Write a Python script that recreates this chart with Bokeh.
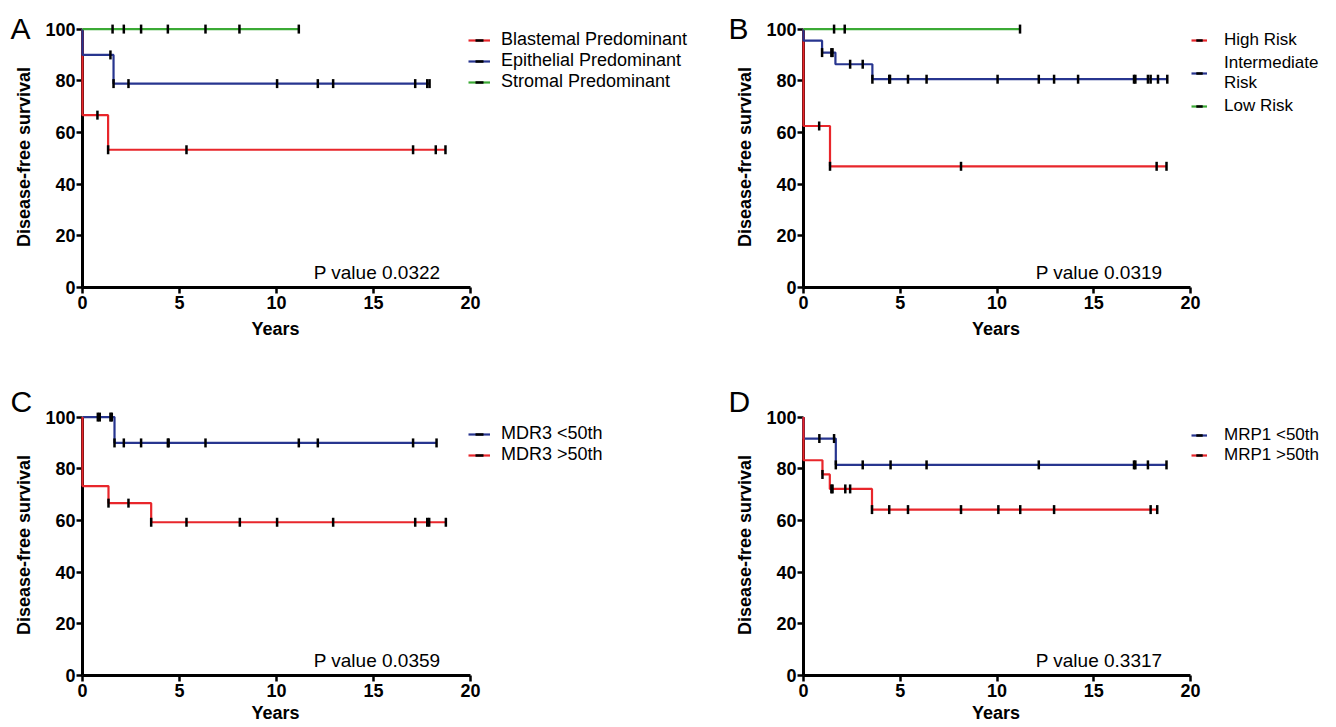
import numpy as np
from bokeh.plotting import figure
from bokeh.models import Range1d, Label, Legend, LegendItem, FixedTicker, Title
from bokeh.layouts import column, row
from bokeh.embed import file_html
from bokeh.resources import INLINE

RED = "#E8262B"
BLUE = "#27358F"
GREEN = "#3BAA35"
FONT = "Liberation Sans"

# ---------------- data (years, % disease-free) ----------------
# Panel A
a_labels = ["Blastemal Predominant", "Epithelial Predominant", "Stromal Predominant"]
a_blast_t = [0, 0, 1.32, 18.71]
a_blast_s = [100, 66.7, 53.3, 53.3]
a_blast_c = [0.77, 1.32, 5.36, 17.04, 18.21, 18.71]
a_epi_t = [0, 0, 1.60, 17.89]
a_epi_s = [100, 90.0, 78.9, 78.9]
a_epi_c = [1.44, 1.60, 2.37, 10.03, 12.13, 12.92, 17.15, 17.77, 17.89]
a_str_t = [0, 11.15]
a_str_s = [100, 100]
a_str_c = [1.55, 2.13, 3.02, 4.40, 6.34, 8.09, 11.15]
a_pval = "P value 0.0322"

# Panel B
b_labels = ["High Risk", "Intermediate\nRisk", "Low Risk"]
b_high_t = [0, 0, 1.37, 18.76]
b_high_s = [100, 62.5, 46.9, 46.9]
b_high_c = [0.81, 1.37, 8.14, 18.25, 18.76]
b_int_t = [0, 0, 0.96, 1.65, 3.56, 18.80]
b_int_s = [100, 95.5, 90.9, 86.4, 80.6, 80.6]
b_int_c = [0.96, 1.44, 1.50, 2.41, 3.06, 3.56, 4.43, 4.47, 5.40, 6.36, 10.03,
           12.16, 12.95, 14.19, 17.08, 17.15, 17.80, 17.94, 18.32, 18.80]
b_low_t = [0, 11.19]
b_low_s = [100, 100]
b_low_c = [1.58, 2.13, 11.19]
b_pval = "P value 0.0319"

# Panel C
c_labels = ["MDR3 <50th", "MDR3 >50th"]
c_lo_t = [0, 1.65, 18.25]
c_lo_s = [100, 90.0, 90.0]
c_lo_c = [0.79, 0.89, 1.44, 1.51, 1.65, 2.13, 3.02, 4.40, 4.44, 6.34, 11.15,
          12.13, 17.04, 18.25]
c_hi_t = [0, 0, 1.34, 3.54, 18.73]
c_hi_s = [100, 73.3, 66.7, 59.3, 59.3]
c_hi_c = [1.34, 2.37, 3.54, 5.36, 8.11, 10.03, 12.92, 17.15, 17.77, 17.87, 18.73]
c_pval = "P value 0.0359"

# Panel D
d_labels = ["MRP1 <50th", "MRP1 >50th"]
d_lo_t = [0, 0, 1.67, 18.76]
d_lo_s = [100, 91.7, 81.5, 81.5]
d_lo_c = [0.82, 1.58, 1.67, 3.06, 4.50, 6.36, 12.16, 17.08, 17.15, 17.80, 18.76]
d_hi_t = [0, 0, 0.98, 1.36, 3.54, 18.28]
d_hi_s = [100, 83.3, 77.8, 72.2, 64.2, 64.2]
d_hi_c = [0.98, 1.44, 1.50, 2.16, 2.41, 3.54, 4.43, 5.40, 8.14, 10.07, 11.20,
          12.95, 17.94, 18.28]
d_pval = "P value 0.3317"

x_ticks = [0, 5, 10, 15, 20]
y_ticks = [0, 20, 40, 60, 80, 100]
x_title = "Years"
y_title = "Disease-free survival"
X_MAX = 20
Y_MAX = 100


def surv_at(times, surv, cens):
    t = np.asarray(times, dtype=float)
    s = np.asarray(surv, dtype=float)
    idx = np.searchsorted(t, np.asarray(cens, dtype=float), side="right") - 1
    return s[idx]


def make_panel(letter, pval, series, width, height, left, top, bottom,
               axis_px, leg_font, glyph_w, standoff, leg_dx, leg_top, leg_spacing,
               letter_offset, letter_standoff, xtitle_standoff, pval_xy):
    right = 2
    frame_w = width - left - right
    frame_h = height - top - bottom
    # plotting area also holds the legend; the axis itself spans 0..20 over axis_px pixels
    x_end = X_MAX * frame_w / axis_px
    p = figure(width=width, height=height,
               x_range=Range1d(0, x_end), y_range=Range1d(0, Y_MAX * 1.01),
               output_backend="svg", toolbar_location=None,
               min_border_left=left, min_border_right=right,
               min_border_top=top, min_border_bottom=bottom,
               outline_line_color=None, background_fill_color="white",
               border_fill_color="white")
    p.title.text = letter
    p.title.align = "left"
    p.title.offset = letter_offset
    p.title.standoff = letter_standoff
    p.title.text_font = FONT
    p.title.text_font_size = "30px"
    p.title.text_font_style = "normal"
    p.title.text_color = "black"
    p.xgrid.visible = False
    p.ygrid.visible = False
    p.xaxis.bounds = (0, X_MAX)
    p.yaxis.bounds = (0, Y_MAX)
    p.xaxis.ticker = FixedTicker(ticks=x_ticks)
    p.yaxis.ticker = FixedTicker(ticks=y_ticks)
    p.yaxis.axis_label = y_title
    for ax in (p.xaxis[0], p.yaxis[0]):
        ax.axis_line_width = 3
        ax.axis_line_color = "black"
        ax.major_tick_line_width = 2.5
        ax.major_tick_line_color = "black"
        ax.major_tick_out = 6
        ax.major_tick_in = 0
        ax.minor_tick_out = 0
        ax.minor_tick_in = 0
        ax.major_label_text_font = FONT
        ax.major_label_text_font_size = "18px"
        ax.major_label_text_font_style = "bold"
        ax.major_label_text_color = "black"
        ax.axis_label_text_font = FONT
        ax.axis_label_text_font_size = "18px"
        ax.axis_label_text_font_style = "bold"
        ax.axis_label_text_color = "black"
    p.yaxis.major_label_standoff = 1
    p.yaxis.axis_label_standoff = 8
    p.xaxis.major_label_standoff = 2
    # x-axis title centred under the 0..20 axis (the plotting area is wider than the axis)
    p.add_layout(Title(text=x_title, align="left", offset=axis_px * 0.5 - 25,
                       standoff=xtitle_standoff, text_font=FONT, text_font_size="18px",
                       text_font_style="bold", text_color="black"), "below")

    items = []
    rends = {}
    for (label, color, t, s, c) in series:
        lr = p.step(t, s, mode="after", line_color=color, line_width=2.2, level="overlay")
        rends[label] = [lr]
    for (label, color, t, s, c) in series:
        mr = p.scatter(c, surv_at(t, s, c), marker="dash", angle=np.pi / 2, size=9,
                       line_color="black", line_width=2.5, level="overlay")
        rends[label].append(mr)
    for (label, color, t, s, c) in series:
        items.append(LegendItem(label=label, renderers=rends[label]))

    n_lines = sum(lbl.count("\n") + 1 for lbl in [it.label.value for it in items])
    leg_h = 4 + 20 * n_lines + leg_spacing * (len(items) - 1)
    leg = Legend(items=items, location=(axis_px + leg_dx, frame_h - leg_top - leg_h),
                 margin=0, padding=2,
                 spacing=leg_spacing, glyph_width=glyph_w, glyph_height=20,
                 label_height=20, label_standoff=standoff,
                 label_text_font=FONT, label_text_font_size=leg_font,
                 label_text_color="black", border_line_color=None,
                 background_fill_alpha=0)
    p.add_layout(leg)

    p.add_layout(Label(x=pval_xy[0], y=pval_xy[1], text=pval,
                       text_font=FONT, text_font_size="19px",
                       text_baseline="alphabetic", text_align="right",
                       text_color="black"))
    return p


pA = make_panel("A", a_pval,
                [(a_labels[0], RED, a_blast_t, a_blast_s, a_blast_c),
                 (a_labels[1], BLUE, a_epi_t, a_epi_s, a_epi_c),
                 (a_labels[2], GREEN, a_str_t, a_str_s, a_str_c)],
                722, 384, 82, 26, 97, 388, "18px", 22, 11, -2, 2, 0,
                -72, -37, 11, (18.45, 5.8))
pB = make_panel("B", b_pval,
                [(b_labels[0], RED, b_high_t, b_high_s, b_high_c),
                 (b_labels[1], BLUE, b_int_t, b_int_s, b_int_c),
                 (b_labels[2], GREEN, b_low_t, b_low_s, b_low_c)],
                612, 384, 81, 26, 97, 387, "17px", 16, 17, 1, 0, 3,
                -75, -37, 11, (18.55, 5.8))
pC = make_panel("C", c_pval,
                [(c_labels[0], BLUE, c_lo_t, c_lo_s, c_lo_c),
                 (c_labels[1], RED, c_hi_t, c_hi_s, c_hi_c)],
                722, 343, 82, 30, 52, 388, "18px", 22, 11, -2, 7, 0,
                -72, -7, 2, (18.45, 5.8))
pD = make_panel("D", d_pval,
                [(d_labels[0], BLUE, d_lo_t, d_lo_s, d_lo_c),
                 (d_labels[1], RED, d_hi_t, d_hi_s, d_hi_c)],
                612, 343, 81, 30, 52, 387, "17px", 16, 17, 1, 7, 0,
                -75, -7, 2, (18.55, 5.8))

layout = column(row(pA, pB), row(pC, pD))
open("out.html", "w").write(file_html(layout, INLINE))
